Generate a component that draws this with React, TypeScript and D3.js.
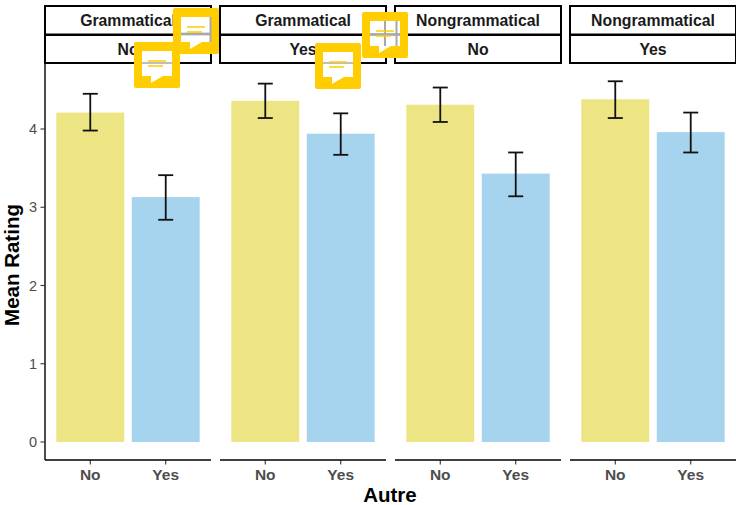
import React from 'react';
import * as d3 from 'd3';

const categories = ['No', 'Yes'];
const facetTop = ['Grammatical', 'Grammatical', 'Nongrammatical', 'Nongrammatical'];
const facetBottom = ['No', 'Yes', 'No', 'Yes'];
const yTicks = [0, 1, 2, 3, 4];

// one row per facet: [No, Yes]
const means = [[4.21, 3.13], [4.36, 3.94], [4.31, 3.43], [4.38, 3.96]];
const lower = [[3.98, 2.84], [4.14, 3.67], [4.09, 3.14], [4.14, 3.70]];
const upper = [[4.45, 3.41], [4.58, 4.20], [4.53, 3.70], [4.61, 4.21]];

const barColors = ['#ede583', '#a6d4ee'];
const width = 736;
const height = 505;
const font = '"Liberation Sans", Arial, sans-serif';

const panelX = d3.scaleBand<number>().domain(d3.range(4)).range([45, 745]);
const panelW = 166;
const panelTop = 63;
const panelBottom = 460;

const y = d3.scaleLinear().domain([0, 4]).range([442, 129]);
const x = d3.scaleBand<string>().domain(categories).range([0, panelW]).paddingInner(0.1).paddingOuter(0.15);

// comment markers lying over the strips, grey lines are the strip borders showing through
const markerPos = [
  { x: 134, y: 42, hLine: 21, hWidth: 1.5, vLines: [] as number[] },
  { x: 173, y: 8, hLine: 26, hWidth: 2.7, vLines: [37.5] },
  { x: 315, y: 43, hLine: 20, hWidth: 1.5, vLines: [] as number[] },
  { x: 362, y: 12, hLine: 22.5, hWidth: 2.7, vLines: [23, 34.5] },
];

const Marker = ({ m }: { m: (typeof markerPos)[number] }) => (
  <g transform={`translate(${m.x},${m.y})`}>
    <rect width={46} height={46} rx={2} fill="#ffcd00" />
    <path d="M8,9H38V34H29L17,41V34H8Z" fill="#ffffff" />
    <line x1={8} x2={38} y1={m.hLine} y2={m.hLine} stroke="#a8a8a8" strokeWidth={m.hWidth} />
    {m.vLines.map(v => <line key={v} x1={v} x2={v} y1={9} y2={34} stroke="#a8a8a8" strokeWidth={2} />)}
    <line x1={14} x2={32} y1={19} y2={19} stroke="#ffcd00" strokeWidth={1.5} />
    <line x1={14} x2={29} y1={24} y2={24} stroke="#ffcd00" strokeWidth={1.5} />
  </g>
);

export default function App() {
  return (
    <svg
      width={width}
      height={height}
      style={{ position: 'absolute', left: 0, top: 0, fontFamily: font }}
    >
      <rect width={width} height={height} fill="#ffffff" />

      {/* y axis */}
      <line x1={45} x2={45} y1={panelTop} y2={panelBottom} stroke="#000" strokeWidth={1.4} />
      {yTicks.map(t => (
        <g key={t}>
          <line x1={40.5} x2={45} y1={y(t)} y2={y(t)} stroke="#333" strokeWidth={1.1} />
          <text x={37} y={y(t)} dy="0.36em" textAnchor="end" fontSize={14.5} fill="#4d4d4d">{t}</text>
        </g>
      ))}

      {facetTop.map((name, i) => {
        const px = panelX(i)!;
        return (
          <g key={i} transform={`translate(${px},0)`}>
            {categories.map((c, j) => {
              const cx = x(c)! + x.bandwidth() / 2;
              return (
                <g key={c}>
                  <rect x={x(c)} width={x.bandwidth()} y={y(means[i][j])} height={y(0) - y(means[i][j])} fill={barColors[j]} />
                  <line x1={cx} x2={cx} y1={y(upper[i][j])} y2={y(lower[i][j])} stroke="#111" strokeWidth={1.8} />
                  <line x1={cx - 7.5} x2={cx + 7.5} y1={y(upper[i][j])} y2={y(upper[i][j])} stroke="#111" strokeWidth={1.8} />
                  <line x1={cx - 7.5} x2={cx + 7.5} y1={y(lower[i][j])} y2={y(lower[i][j])} stroke="#111" strokeWidth={1.8} />
                  <line x1={cx} x2={cx} y1={panelBottom} y2={panelBottom + 4.5} stroke="#333" strokeWidth={1.1} />
                  <text x={cx} y={480} textAnchor="middle" fontSize={15.5} fontWeight={700} fill="#4d4d4d">{c}</text>
                </g>
              );
            })}
            <line x1={0} x2={panelW} y1={panelBottom} y2={panelBottom} stroke="#000" strokeWidth={1.4} />

            {/* facet strips */}
            <rect x={0} y={6} width={panelW} height={28.5} fill="#fff" stroke="#000" strokeWidth={2} />
            <rect x={0} y={35} width={panelW} height={28} fill="#fff" stroke="#000" strokeWidth={2} />
            <text x={panelW / 2} y={20.5} dy="0.36em" textAnchor="middle" fontSize={15.8} fontWeight={700} fill="#1a1a1a">{name}</text>
            <text x={panelW / 2} y={49.5} dy="0.36em" textAnchor="middle" fontSize={15.8} fontWeight={700} fill="#1a1a1a">{facetBottom[i]}</text>
          </g>
        );
      })}

      <text x={390} y={502} textAnchor="middle" fontSize={20.5} fontWeight={700} fill="#000">Autre</text>
      <text transform="translate(19,265) rotate(-90)" textAnchor="middle" fontSize={20.5} fontWeight={700} fill="#000">Mean Rating</text>

      {markerPos.map((m, i) => <Marker key={i} m={m} />)}
    </svg>
  );
}
